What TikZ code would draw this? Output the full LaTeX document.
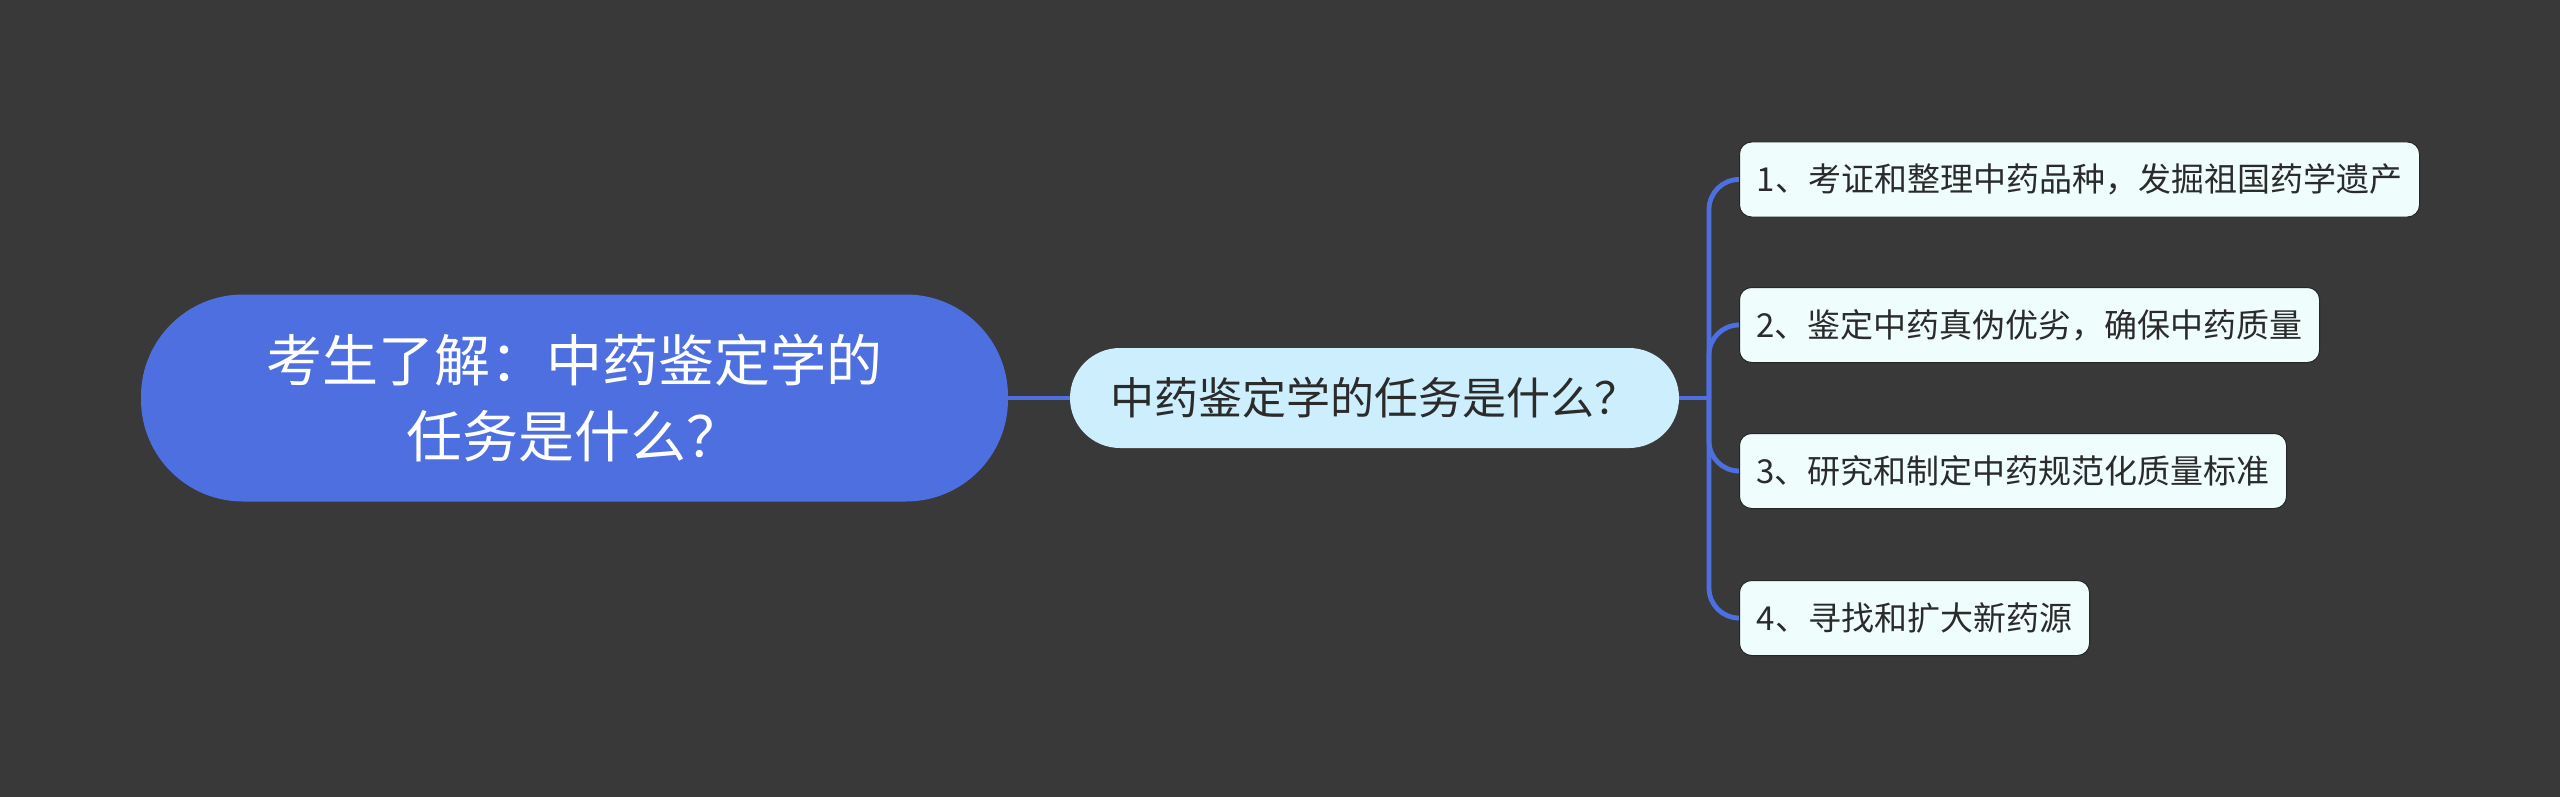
\documentclass[tikz,border=0pt]{standalone}
\usepackage{fontspec}
\usetikzlibrary{backgrounds}
\setmainfont{Noto Sans CJK SC}
\definecolor{bg}{HTML}{3A393A}
\definecolor{rootblue}{HTML}{4E6FE0}
\definecolor{midfill}{HTML}{CDEFFD}
\definecolor{leaffill}{HTML}{F0FDFD}
\definecolor{linkblue}{HTML}{4E6FE0}
\definecolor{txtdark}{HTML}{2B2B2B}
\tikzset{
  rootbox/.style={fill=rootblue, draw=none, rounded corners=51pt, minimum width=433.5pt, minimum height=103.5pt, inner sep=0pt, text=white, align=center, font=\fontsize{28pt}{38pt}\selectfont},
  midbox/.style={fill=midfill, draw=none, rounded corners=25pt, minimum width=304.5pt, minimum height=50pt, inner sep=0pt, text=txtdark, font=\fontsize{22pt}{26pt}\selectfont},
  leafbox/.style={fill=leaffill, draw=black!85, line width=0.5pt, rounded corners=6pt, minimum height=37.5pt, inner sep=0pt, anchor=west, text=txtdark, font=\fontsize{16.5pt}{20pt}\selectfont},
  link/.style={draw=linkblue, line width=2.4pt},
  branch/.style={draw=linkblue, line width=2.4pt, rounded corners=15pt}
}
\begin{document}
\begin{tikzpicture}[x=0.5pt,y=-0.5pt]
\node[rootbox] (root) at (574.5,398) {考生了解：中药鉴定学的\\任务是什么？};
\node[midbox] (mid) at (1374.5,398) {中药鉴定学的任务是什么？};
\node[leafbox, minimum width=340pt] (l1) at (1739,179.5) {1、考证和整理中药品种，发掘祖国药学遗产};
\node[leafbox, minimum width=290pt] (l2) at (1739,325) {2、鉴定中药真伪优劣，确保中药质量};
\node[leafbox, minimum width=273.5pt] (l3) at (1739,471) {3、研究和制定中药规范化质量标准};
\node[leafbox, minimum width=175pt] (l4) at (1739,618) {4、寻找和扩大新药源};
\coordinate (j) at (1709,398);
\begin{pgfonlayer}{background}
\fill[bg] (0,0) rectangle (2560,797);
\draw[link] (root.east) -- (mid.west);
\draw[link] (mid.east) -- (j);
\draw[branch] (j) |- (l1.west);
\draw[branch] (j) |- (l2.west);
\draw[branch] (j) |- (l3.west);
\draw[branch] (j) |- (l4.west);
\end{pgfonlayer}
\useasboundingbox (0,0) rectangle (2560,797);
\end{tikzpicture}
\end{document}
